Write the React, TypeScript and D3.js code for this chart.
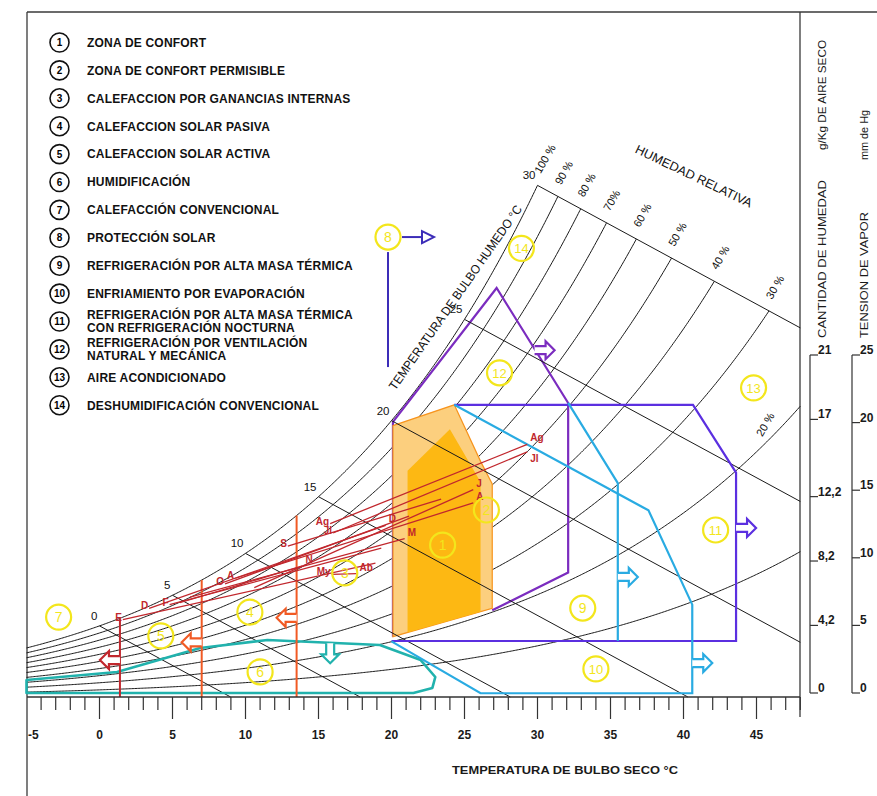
import React, { useEffect, useRef } from 'react';
import * as d3 from 'd3';

// ---- legend ----
const legendItems: string[][] = [
    ['ZONA DE CONFORT'],
    ['ZONA DE CONFORT PERMISIBLE'],
    ['CALEFACCION POR GANANCIAS INTERNAS'],
    ['CALEFACCION SOLAR PASIVA'],
    ['CALEFACCION SOLAR ACTIVA'],
    ['HUMIDIFICACIÓN'],
    ['CALEFACCIÓN CONVENCIONAL'],
    ['PROTECCIÓN SOLAR'],
    ['REFRIGERACIÓN POR ALTA MASA TÉRMICA'],
    ['ENFRIAMIENTO POR EVAPORACIÓN'],
    ['REFRIGERACIÓN POR ALTA MASA TÉRMICA', 'CON REFRIGERACIÓN NOCTURNA'],
    ['REFRIGERACIÓN POR VENTILACIÓN', 'NATURAL Y MECÁNICA'],
    ['AIRE ACONDICIONADO'],
    ['DESHUMIDIFICACIÓN CONVENCIONAL'],
];

// ---- psychrometric grid ----
const rhLevels = [100, 90, 80, 70, 60, 50, 40, 30, 20, 10];
const rhLabels = ['100 %', '90 %', '80 %', '70%', '60 %', '50 %', '40 %', '30 %', '20 %', ''];
const wetBulbTemps = [0, 5, 10, 15, 20, 25, 30];
const xTickLabels = [-5, 0, 5, 10, 15, 20, 25, 30, 35, 40, 45];
const humidityTicks = [0, 4.2, 8.2, 12.2, 17, 21];
const vaporTicks = [0, 5, 10, 15, 20, 25];

// ---- zones, points as [dry bulb °C, g/kg] ----
const zonePermisible: [number, number][] = [[20.1, 14.4], [24.3, 15.5], [26.1, 12.5], [26.9, 11.3], [26.9, 4.7], [20.1, 3.2]];
const zoneConfort: [number, number][] = [[21.1, 12.0], [24.0, 14.2], [26.1, 11.4], [26.1, 4.52], [21.1, 3.42]];
const zoneVentilacion: [number, number][] = [[26.9, 4.6], [32.1, 6.6], [32.1, 15.6], [27.2, 21.7], [20.1, 14.6], [20.1, 3.2]];
const zoneMasaNocturna: [number, number][] = [[24.3, 15.5], [40.65, 15.5], [43.6, 11.9], [43.6, 2.97], [20.0, 2.97]];
const zoneEvapOuter: [number, number][] = [[24.3, 15.5], [37.6, 9.9], [40.6, 4.9], [40.6, 0.2], [26.1, 0.2], [20.0, 2.95]];
const zoneEvapInner: [number, number][] = [[32.1, 15.6], [35.5, 11.35], [35.5, 2.97]];
const zoneHumidif: [number, number][] = [[-5, 0.21], [-5, 0.9], [1.2, 1.33], [6.9, 2.6], [11.5, 3.02], [19.2, 2.76], [22.0, 1.96], [23.0, 1.06], [22.8, 0.48], [21.5, 0.21]];

const heatingTemps = [1.4, 7.0, 13.5];
const heatingArrowW = [1.96, 2.9, 4.2];
const heatingColors = ['#c1272d', '#f15a24', '#f15a24'];

// arrows: [T, W, direction deg, colour]
const zoneArrows: [number, number, number, string][] = [
    [35.5, 6.37, 0, '#29abe2'],
    [40.6, 1.8, 0, '#29abe2'],
    [43.6, 8.97, 0, '#5b2fe0'],
    [29.8, 18.4, 0, '#7b2cbf'],
    [15.8, 2.85, 90, '#21b2ad'],
];

// yellow zone numbers: [n, T, W]
const zoneLabels: [number, number, number][] = [
    [1, 23.5, 8.06], [2, 26.5, 9.92], [3, 16.8, 6.58], [4, 10.3, 4.5], [5, 4.2, 3.24],
    [6, 11.0, 1.33], [7, -2.8, 4.24], [8, 19.76, 24.4], [9, 33.1, 4.72], [10, 34.0, 1.49],
    [11, 42.2, 8.86], [12, 27.4, 17.2], [13, 44.8, 16.4], [14, 28.9, 23.8],
];

// monthly climate lines (min -> max)
const monthLeftLabel = ['E', 'F', '', 'A', 'My', '', 'Jl', 'Ag', 'S', 'O', '', 'D'];
const monthRightLabel = ['', '', 'M', 'A', 'Ab', 'J', 'Jl', 'Ag', '', '', 'N', 'D'];
const monthMinT = [1.6, 4.8, 6.2, 9.3, 15.9, 10.6, 16.0, 15.8, 12.9, 8.6, 5.5, 3.4];
const monthMinW = [4.1, 4.9, 5.3, 6.3, 6.5, 5.8, 8.7, 9.2, 8.0, 6.0, 5.0, 4.7];
const monthMaxT = [18.9, 19.3, 20.9, 25.6, 17.6, 25.6, 29.3, 29.3, 23.4, 21.2, 13.9, 19.6];
const monthMaxW = [7.1, 7.9, 8.4, 10.3, 6.55, 11.0, 13.0, 13.4, 10.5, 9.6, 6.95, 9.1];

const P_ATM = 101.325;
const WB_SLOPE = 0.42;
const satPressure = (t: number) => 0.61094 * Math.exp((17.625 * t) / (t + 243.04));
const satHumidity = (t: number) => {
    const p = satPressure(t);
    return (622 * p) / (P_ATM - p);
};
const rhHumidity = (t: number, rh: number) => (rh / 100) * satHumidity(t);
const wbHumidity = (t: number, twb: number) => satHumidity(twb) - WB_SLOPE * (t - twb);

const T_MIN = -5;
const T_MAX = 48;
const TOP_WB = 30;

const rhCurve = (rh: number): [number, number][] => {
    const pts: [number, number][] = [];
    const f = (t: number) => rhHumidity(t, rh) - wbHumidity(t, TOP_WB);
    let prev = T_MIN;
    for (let i = 0; i <= 530; i++) {
        const t = T_MIN + i * 0.1;
        if (f(t) > 1e-9) {
            let a = prev, b = t;
            for (let k = 0; k < 40; k++) {
                const m = (a + b) / 2;
                if (f(m) > 0) b = m; else a = m;
            }
            pts.push([a, rhHumidity(a, rh)]);
            return pts;
        }
        pts.push([t, rhHumidity(t, rh)]);
        prev = t;
    }
    return pts;
};

const FONT = "'Liberation Sans', Arial, Helvetica, sans-serif";
const fmtComma = (v: number) => String(v).replace('.', ',');

const App: React.FC = () => {
    const svgRef = useRef<SVGSVGElement>(null);

    useEffect(() => {
        if (!svgRef.current) return;
        drawChart();
    }, []);

    const drawChart = () => {
        const svg = d3.select(svgRef.current);
        svg.selectAll('*').remove();
        svg.append('rect').attr('width', 877).attr('height', 796).attr('fill', '#fff');

        const x = d3.scaleLinear().domain([T_MIN, T_MAX]).range([26.5, 800.3]);
        const y = d3.scaleLinear().domain([0, 30]).range([697, 131.5]);
        const line = d3.line<[number, number]>().x((d) => x(d[0])).y((d) => y(d[1]));

        // frame
        const frame = svg.append('g').attr('stroke', '#3a3a3a').attr('stroke-width', 1.3);
        frame.append('line').attr('x1', 27).attr('y1', 12).attr('x2', 877).attr('y2', 12);
        frame.append('line').attr('x1', 27).attr('y1', 12).attr('x2', 27).attr('y2', 796);
        frame.append('line').attr('x1', 800).attr('y1', 12).attr('x2', 800).attr('y2', 717);

        // legend
        const lg = svg.append('g').style('font-family', FONT);
        legendItems.forEach((lines, i) => {
            const cy = 42.5 + i * 27.9;
            lg.append('circle')
                .attr('cx', 59.5).attr('cy', cy).attr('r', 9.5)
                .attr('fill', 'none').attr('stroke', '#111').attr('stroke-width', 1.6);
            lg.append('text')
                .attr('x', 59.5).attr('y', cy + 3.6)
                .attr('text-anchor', 'middle')
                .style('font-size', '10px').attr('font-weight', '700')
                .text(i + 1);
            lines.forEach((s, j) => {
                const dy = lines.length === 2 ? (j === 0 ? -6.6 : 6.6) : 0;
                lg.append('text')
                    .attr('x', 87).attr('y', cy + dy + 4.3)
                    .style('font-size', '12px').attr('font-weight', '700')
                    .style('letter-spacing', '0.2px')
                    .attr('fill', '#111')
                    .text(s);
            });
        });

        // relative humidity curves
        const rhEnds: [number, number][] = [];
        const rhG = svg.append('g').attr('fill', 'none').attr('stroke', '#1a1a1a').attr('stroke-width', 1);
        rhLevels.forEach((rh) => {
            const pts = rhCurve(rh);
            rhEnds.push(pts[pts.length - 1]);
            rhG.append('path').attr('d', line(pts));
        });

        // ventilation (purple) under the comfort fill
        svg.append('path')
            .attr('d', line(zoneVentilacion))
            .attr('fill', 'none').attr('stroke', '#7b2cbf').attr('stroke-width', 2.2);

        svg.append('path')
            .attr('d', line(zonePermisible) + 'Z')
            .attr('fill', '#fccf7e').attr('stroke', '#f7941d').attr('stroke-width', 1.2);
        svg.append('path')
            .attr('d', line(zoneConfort) + 'Z')
            .attr('fill', '#fdb813').attr('stroke', 'none');

        // wet bulb lines
        const wbG = svg.append('g').attr('fill', 'none').attr('stroke', '#1a1a1a').attr('stroke-width', 1);
        wetBulbTemps.forEach((twb) => {
            const tEnd = Math.min(T_MAX, twb + satHumidity(twb) / WB_SLOPE);
            wbG.append('path')
                .attr('d', line([[twb, satHumidity(twb)], [tEnd, wbHumidity(tEnd, twb)]]));
        });

        // wet bulb labels
        const lbl = svg.append('g').style('font-family', FONT).attr('fill', '#111');
        wetBulbTemps.forEach((twb) => {
            lbl.append('text')
                .attr('x', x(twb) - 2).attr('y', y(satHumidity(twb)) - 6)
                .attr('text-anchor', 'end')
                .style('font-size', '11.5px')
                .text(twb);
        });

        // RH labels
        rhLevels.forEach((rh, i) => {
            if (!rhLabels[i]) return;
            let px: number, py: number;
            if (rh === 20) {
                const t = 45.4;
                px = x(t);
                py = y(rhHumidity(t, rh)) - 9;
            } else {
                const e = rhEnds[i];
                px = x(e[0]) + 3;
                py = y(e[1]) - 11;
            }
            lbl.append('text')
                .attr('transform', `translate(${px},${py}) rotate(-60)`)
                .style('font-size', '11px')
                .text(rhLabels[i]);
        });

        lbl.append('text')
            .attr('transform', 'translate(692,180) rotate(25.6)')
            .attr('text-anchor', 'middle')
            .style('font-size', '12.5px')
            .attr('textLength', 128)
            .attr('lengthAdjust', 'spacingAndGlyphs')
            .text('HUMEDAD RELATIVA');
        lbl.append('text')
            .attr('transform', 'translate(459,300) rotate(-55)')
            .attr('text-anchor', 'middle')
            .style('font-size', '12.5px')
            .attr('textLength', 222)
            .attr('lengthAdjust', 'spacingAndGlyphs')
            .text('TEMPERATURA DE BULBO HUMEDO °C');

        // zone outlines
        svg.append('path')
            .attr('d', line(zoneHumidif) + 'Z')
            .attr('fill', 'none').attr('stroke', '#21b2ad').attr('stroke-width', 2.6)
            .attr('stroke-linejoin', 'round');
        svg.append('path')
            .attr('d', line(zoneMasaNocturna))
            .attr('fill', 'none').attr('stroke', '#5b2fe0').attr('stroke-width', 2.2);
        svg.append('path')
            .attr('d', line(zoneEvapOuter))
            .attr('fill', 'none').attr('stroke', '#29abe2').attr('stroke-width', 2.2);
        svg.append('path')
            .attr('d', line(zoneEvapInner))
            .attr('fill', 'none').attr('stroke', '#29abe2').attr('stroke-width', 2.2);

        // heating lines
        heatingTemps.forEach((t, i) => {
            svg.append('line')
                .attr('x1', x(t)).attr('x2', x(t))
                .attr('y1', y(satHumidity(t))).attr('y2', y(0))
                .attr('stroke', heatingColors[i]).attr('stroke-width', 2);
        });

        // hollow arrows
        const arrowShape = 'M0,-4 L11,-4 L11,-9 L20,0 L11,9 L11,4 L0,4';
        const drawArrow = (px: number, py: number, deg: number, color: string) => {
            svg.append('path')
                .attr('d', arrowShape)
                .attr('transform', `translate(${px},${py}) rotate(${deg})`)
                .attr('fill', '#fff').attr('stroke', color).attr('stroke-width', 2.2);
        };
        heatingTemps.forEach((t, i) => drawArrow(x(t), y(heatingArrowW[i]), 180, heatingColors[i]));
        zoneArrows.forEach(([t, w, deg, c]) => drawArrow(x(t), y(w), deg, c));

        // monthly lines
        const red = '#c1272d';
        const ml = svg.append('g').style('font-family', FONT);
        monthMinT.forEach((_, i) => {
            const x0 = x(monthMinT[i]), y0 = y(monthMinW[i]);
            const x1 = x(monthMaxT[i]), y1 = y(monthMaxW[i]);
            ml.append('line')
                .attr('x1', x0).attr('y1', y0).attr('x2', x1).attr('y2', y1)
                .attr('stroke', red).attr('stroke-width', 1.3);
            if (monthLeftLabel[i]) {
                ml.append('text')
                    .attr('x', x0 - 1).attr('y', y0 + 1)
                    .attr('text-anchor', 'end')
                    .style('font-size', '10px').attr('font-weight', '700')
                    .attr('fill', red)
                    .text(monthLeftLabel[i]);
            }
            if (monthRightLabel[i]) {
                const below = monthRightLabel[i] === 'Jl';
                ml.append('text')
                    .attr('x', x1 + 3).attr('y', below ? y1 + 10 : y1 - 3)
                    .style('font-size', '10px').attr('font-weight', '700')
                    .attr('fill', red)
                    .text(monthRightLabel[i]);
            }
        });

        // zone 8: solar protection marker
        const z8x = x(19.76), z8y = y(24.4);
        const blue8 = '#3c2db8';
        svg.append('line')
            .attr('x1', z8x + 14).attr('y1', z8y).attr('x2', z8x + 36).attr('y2', z8y)
            .attr('stroke', blue8).attr('stroke-width', 2);
        svg.append('path')
            .attr('d', `M${z8x + 34},${z8y - 6} L${z8x + 46},${z8y} L${z8x + 34},${z8y + 6} Z`)
            .attr('fill', '#fff').attr('stroke', blue8).attr('stroke-width', 2);
        svg.append('line')
            .attr('x1', z8x).attr('y1', z8y + 15).attr('x2', z8x).attr('y2', z8y + 130)
            .attr('stroke', blue8).attr('stroke-width', 2);

        // yellow zone numbers
        const yl = svg.append('g').style('font-family', FONT);
        zoneLabels.forEach(([n, t, w]) => {
            yl.append('circle')
                .attr('cx', x(t)).attr('cy', y(w)).attr('r', 12.5)
                .attr('fill', 'none').attr('stroke', '#f3e61c').attr('stroke-width', 2.2);
            yl.append('text')
                .attr('x', x(t)).attr('y', y(w) + 5)
                .attr('text-anchor', 'middle')
                .style('font-size', n >= 10 ? '13px' : '14px')
                .attr('fill', '#f3e61c')
                .text(n);
        });

        // x axis
        const ax = svg.append('g').style('font-family', FONT);
        ax.append('line')
            .attr('x1', 27).attr('x2', 800).attr('y1', y(0)).attr('y2', y(0))
            .attr('stroke', '#333').attr('stroke-width', 1.3);
        d3.range(-4, 49).forEach((t) => {
            ax.append('line')
                .attr('x1', x(t)).attr('x2', x(t))
                .attr('y1', y(0)).attr('y2', y(0) + (t % 5 === 0 ? 22 : 13))
                .attr('stroke', '#333').attr('stroke-width', 1.2);
        });
        xTickLabels.forEach((t) => {
            ax.append('text')
                .attr('x', t === -5 ? 28 : x(t))
                .attr('y', 739)
                .attr('text-anchor', t === -5 ? 'start' : 'middle')
                .style('font-size', '12px').attr('font-weight', '700')
                .attr('fill', '#1a1a1a')
                .text(t);
        });
        ax.append('text')
            .attr('x', 452).attr('y', 774)
            .style('font-size', '11.5px').attr('font-weight', '700')
            .attr('textLength', 226)
            .attr('lengthAdjust', 'spacingAndGlyphs')
            .attr('fill', '#1a1a1a')
            .text('TEMPERATURA DE BULBO SECO  °C');

        // right axes
        const ra = svg.append('g').style('font-family', FONT).attr('fill', '#1a1a1a');
        const addRight = (
            bx: number, ticks: number[],
            titleTop: string, titleTopY: number, titleTopLen: number,
            titleBot: string, titleBotY: number, titleBotLen: number,
        ) => {
            const s = d3.scaleLinear().domain([0, ticks[ticks.length - 1]]).range([693, 355]);
            ra.append('line')
                .attr('x1', bx).attr('x2', bx).attr('y1', s(0)).attr('y2', s(ticks[ticks.length - 1]))
                .attr('stroke', '#333').attr('stroke-width', 1.2);
            ticks.forEach((tk) => {
                const ty = s(tk);
                ra.append('line')
                    .attr('x1', bx).attr('x2', bx + 8).attr('y1', ty).attr('y2', ty)
                    .attr('stroke', '#333').attr('stroke-width', 1.2);
                ra.append('text')
                    .attr('x', bx + 8).attr('y', ty - 1)
                    .style('font-size', '12px').attr('font-weight', '700')
                    .text(fmtComma(tk));
            });
            ra.append('text')
                .attr('transform', `translate(${bx + 16},${titleTopY}) rotate(-90)`)
                .attr('text-anchor', 'middle')
                .style('font-size', '11.5px')
                .attr('textLength', titleTopLen)
                .attr('lengthAdjust', 'spacingAndGlyphs')
                .text(titleTop);
            ra.append('text')
                .attr('transform', `translate(${bx + 16},${titleBotY}) rotate(-90)`)
                .attr('text-anchor', 'middle')
                .style('font-size', '11.5px')
                .attr('textLength', titleBotLen)
                .attr('lengthAdjust', 'spacingAndGlyphs')
                .text(titleBot);
        };
        addRight(810, humidityTicks, 'g/Kg DE AIRE SECO', 95, 110, 'CANTIDAD DE HUMEDAD', 259, 158);
        addRight(852, vaporTicks, 'mm de Hg', 135, 50, 'TENSION DE VAPOR', 275, 126);
    };

    return (
        <svg
            ref={svgRef}
            width={877}
            height={796}
            style={{ position: 'absolute', left: 0, top: 0, background: '#fff' }}
        />
    );
};

export default App;
